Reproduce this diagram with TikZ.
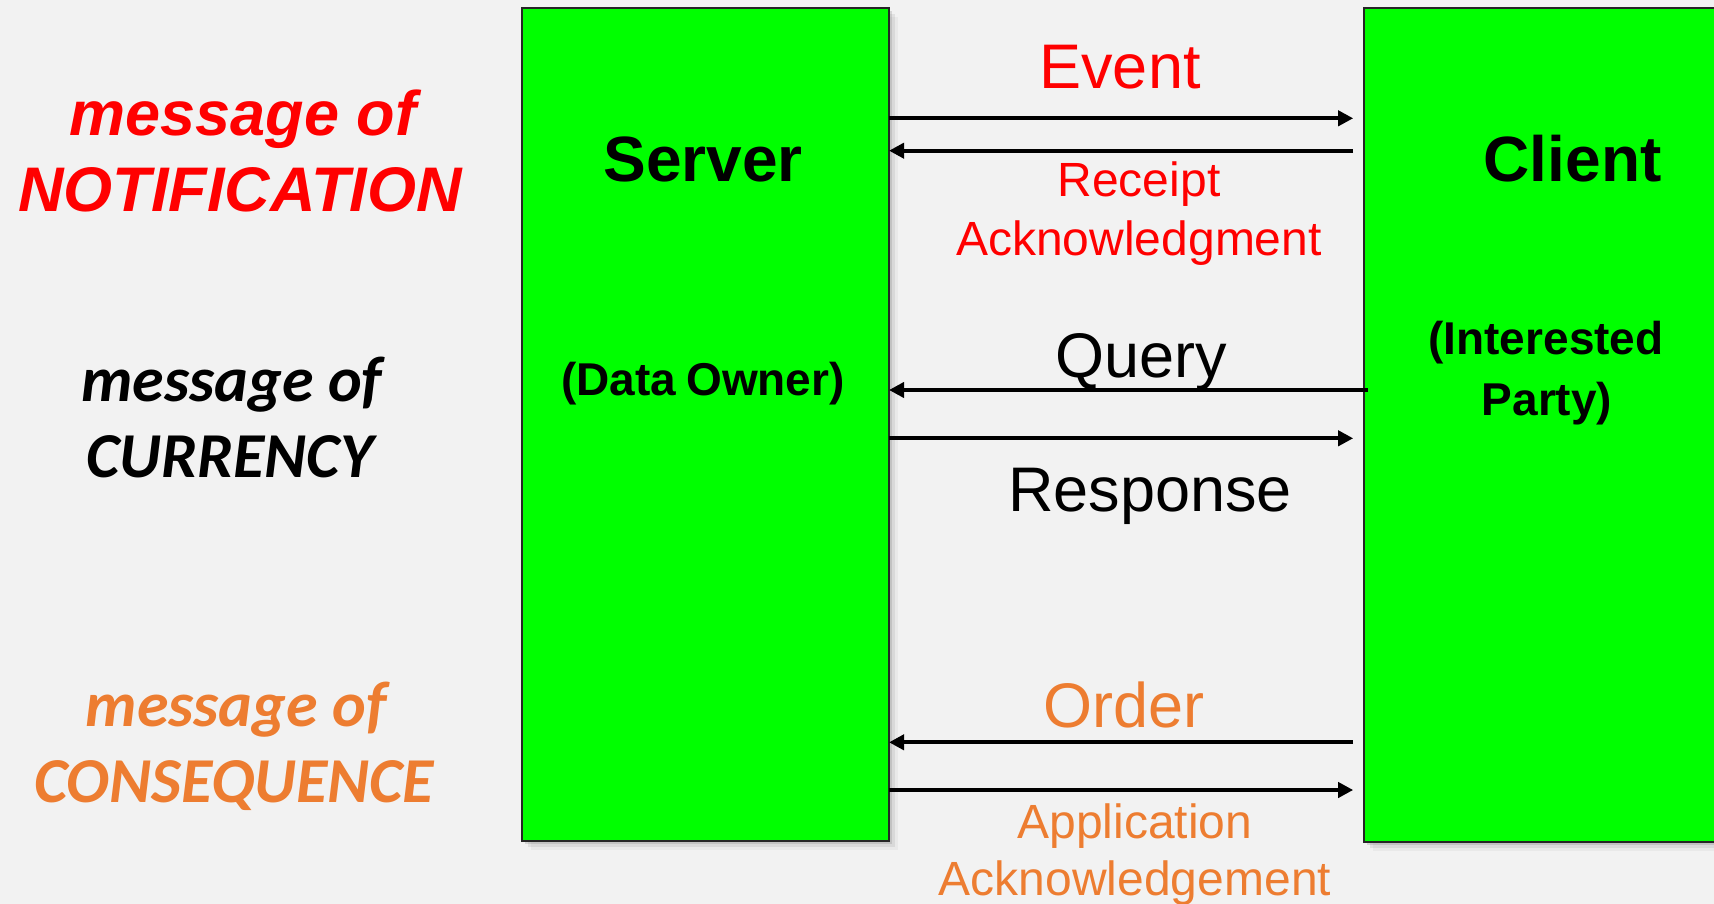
\documentclass[tikz,border=0pt]{standalone}
\usepackage{fontspec}
\setmainfont{Liberation Sans}
\newfontfamily\calib{Carlito}
\usetikzlibrary{arrows.meta,shadows}
\definecolor{bg}{HTML}{F2F2F2}
\definecolor{grn}{HTML}{00FF00}
\definecolor{org}{HTML}{ED7D31}
\definecolor{rd}{HTML}{FF0000}
\begin{document}
\begin{tikzpicture}[x=0.5pt,y=-0.5pt,
  box/.style={draw=black!85, line width=1pt, fill=grn, inner sep=0, outer sep=0,
    drop shadow={shadow xshift=1.5pt, shadow yshift=-1.5pt, opacity=0.25},
    drop shadow={shadow xshift=3pt, shadow yshift=-3pt, opacity=0.15},
    drop shadow={shadow xshift=4.5pt, shadow yshift=-4.5pt, opacity=0.08}},
  arr/.style={line width=2pt, -{Triangle[length=7.5pt,width=7.5pt]}},
  lbl/.style={anchor=base, inner sep=0, outer sep=0},
  big/.style={font=\fontsize{31.5}{37}\selectfont},
  small/.style={font=\fontsize{24}{29}\selectfont},
  boxbig/.style={font=\fontsize{32}{38}\selectfont\bfseries},
  boxsmall/.style={font=\fontsize{23}{28}\selectfont\bfseries},
  leftA/.style={font=\fontsize{31.5}{37}\selectfont\bfseries\itshape},
  leftB/.style={font=\fontsize{32}{38}\selectfont\calib\bfseries\itshape}
]
\useasboundingbox (0,0) rectangle (1714,904);
\fill[bg] (0,0) rectangle (1714,904);

% boxes
\node[box, minimum width=183.4pt, minimum height=416.1pt] (server) at (705.6,424.6) {};
\node[box, minimum width=183pt, minimum height=416.5pt] (client) at (1547.2,425) {};

% box texts
\node[lbl, boxbig] (srv) at (703,181.7) {Server};
\node[lbl, boxsmall] (own) at (703,395) {(Data\hspace{5pt}Owner)};
\node[lbl, boxbig] (cli) at (1572.5,181.5) {Client};
\node[lbl, boxsmall] (int) at (1546,354.5) {(Interested};
\node[lbl, boxsmall] (par) at (1547,415) {Party)};

% left labels
\node[lbl, leftA, rd] (n1) at (243,135.4) {message of};
\node[lbl, leftA, rd] (n2) at (240,211.5) {NOTIFICATION};
\node[lbl, leftB, black] (c1) at (231.7,401.7) {message of};
\node[lbl, leftB, black] (c2) at (230,477) {CURRENCY};
\node[lbl, leftB, org] (q1) at (236,726) {message of};
\node[lbl, leftB, org] (q2) at (234,802) {CONSEQUENCE};

% message labels
\node[lbl, big, rd] (ev) at (1120,88.3) {Event};
\node[lbl, small, rd] (rc1) at (1139,197) {Receipt};
\node[lbl, small, rd] (rc2) at (1139,255) {Acknowledgment};
\node[lbl, big] (qu) at (1141,377) {Query};
\node[lbl, big] (re) at (1150,511.7) {Response};
\node[lbl, big, org] (od) at (1124,727) {Order};
\node[lbl, small, org] (ap1) at (1135,838) {Application};
\node[lbl, small, org] (ap2) at (1135,895) {Acknowledgement};

% arrow levels
\coordinate (yev) at (0,118.3);
\coordinate (yrc) at (0,150.7);
\coordinate (yqu) at (0,390);
\coordinate (yre) at (0,438.3);
\coordinate (yod) at (0,742.3);
\coordinate (yap) at (0,790);
\coordinate (cl) at ([xshift=-5.5pt]client.west);
\coordinate (cq) at ([xshift=2pt]client.west);

\draw[arr] (server.east |- yev) -- (cl |- yev);
\draw[arr] (cl |- yrc) -- (server.east |- yrc);
\draw[arr] (cq |- yqu) -- (server.east |- yqu);
\draw[arr] (server.east |- yre) -- (cl |- yre);
\draw[arr] (cl |- yod) -- (server.east |- yod);
\draw[arr] (server.east |- yap) -- (cl |- yap);
\end{tikzpicture}
\end{document}
